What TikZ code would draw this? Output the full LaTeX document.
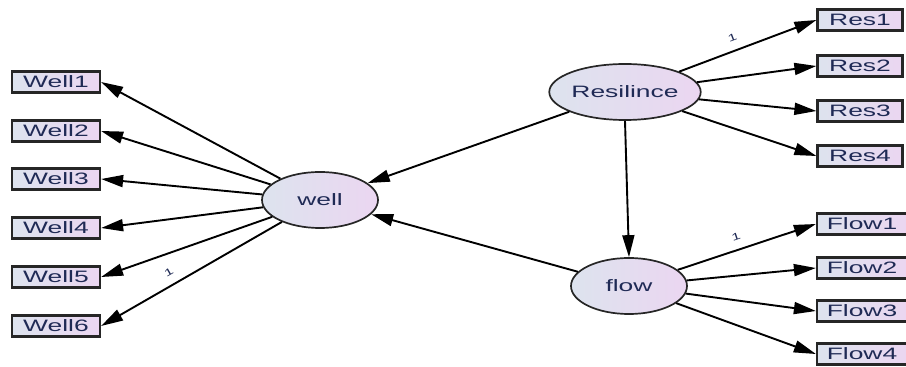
\documentclass[tikz,border=0pt]{standalone}
\usepackage{fontspec}
\setmainfont{Liberation Sans}[FakeStretch=1.6]
\usetikzlibrary{arrows.meta, shapes.geometric}
\definecolor{boxleft}{HTML}{DDE3EE}
\definecolor{boxright}{HTML}{EBD6F1}
\definecolor{textnavy}{HTML}{1F2A55}

\begin{document}
\begin{tikzpicture}
        [x=1pt, y=1pt,
         every node/.style={
             text=textnavy,
             font=\fontsize{16.5}{18}\selectfont
         },
         observed/.style={
             draw=black!85,
             line width=2.2pt,
             left color=boxleft,
             right color=boxright,
             minimum height=21pt,
             inner sep=0pt
         },
         latent/.style={
             ellipse,
             draw=black!85,
             line width=1.7pt,
             left color=boxleft,
             right color=boxright,
             minimum width=116pt,
             minimum height=56pt,
             inner sep=0pt
         },
         loading/.style={
             black,
             line width=1.9pt,
             -{Triangle[length=22pt,width=12pt]}
         },
         one/.style={
             font=\fontsize{10}{10}\selectfont,
             sloped,
             above=5pt
         }
         ]
        \useasboundingbox (0,0) rectangle (906,367);
        % latent variables
        \node[latent] (well) at (320,167) {well};
        \node[latent] (res) at (625,275) {Resilince};
        \node[latent] (flow) at (629,81) {flow};
        % observed variables
        \foreach \i/\y in {1/285,2/236,3/188,4/139,5/90,6/41}
            \node[observed, minimum width=88pt] (well\i) at (56,\y) {Well\i};
        \foreach \i/\y in {1/347,2/301,3/256,4/211}
            \node[observed, minimum width=85pt] (res\i) at (860,\y) {Res\i};
        \foreach \i/\y in {1/143,2/99,3/56,4/13}
            \node[observed, minimum width=90pt] (flow\i) at (862,\y) {Flow\i};
        % structural paths
        \draw[loading] (res) -- (well);
        \draw[loading] (flow) -- (well);
        \draw[loading] (res.south) -- (flow.north);
        % loadings
        \foreach \i in {1,...,5}
            \draw[loading] (well) -- (well\i.east);
        \draw[loading] (well) -- node[one, pos=.59] {1} (well6.east);
        \draw[loading] (res) -- node[one, pos=.42] {1} (res1.west);
        \foreach \i in {2,3,4}
            \draw[loading] (res) -- (res\i.west);
        \draw[loading] (flow) -- node[one, pos=.45] {1} (flow1.west);
        \foreach \i in {2,3,4}
            \draw[loading] (flow) -- (flow\i.west);
\end{tikzpicture}
\end{document}
